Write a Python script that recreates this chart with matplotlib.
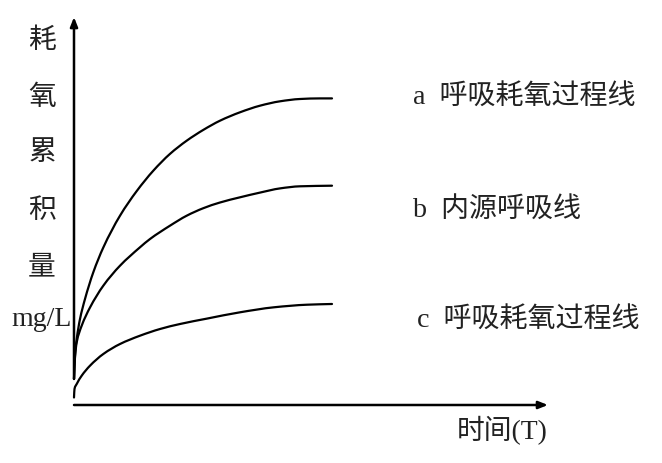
import matplotlib
matplotlib.use("Agg")
import matplotlib.pyplot as plt
from matplotlib.path import Path
from matplotlib.patches import PathPatch

# ---- data (time units, mg/L units) ----
a_t = [0.0, 0.039, 0.105, 0.233, 0.426, 0.748, 1.136, 1.783, 2.43, 3.074, 3.72,
       4.368, 5.012, 5.659, 6.434, 7.209, 7.984, 8.76, 9.535, 10.0]
a_v = [0.867, 1.643, 2.2, 2.867, 3.533, 4.423, 5.25, 6.31, 7.13, 7.81, 8.37,
       8.81, 9.17, 9.477, 9.757, 9.977, 10.123, 10.2, 10.22, 10.22]

b_t = [0.0, 0.039, 0.105, 0.298, 0.62, 1.136, 1.783, 2.558, 2.946, 3.72, 4.368,
       5.012, 5.659, 6.434, 7.209, 7.984, 8.76, 10.0]
b_v = [0.867, 1.6, 2.09, 2.643, 3.25, 3.977, 4.643, 5.257, 5.533, 5.977, 6.31,
       6.56, 6.75, 6.923, 7.08, 7.22, 7.29, 7.31]

c_t = [0.0, 0.019, 0.105, 0.298, 0.62, 1.136, 1.783, 2.558, 3.333, 4.109, 5.155,
       6.434, 7.752, 9.031, 10.0]
c_v = [0.25, 0.533, 0.7, 0.977, 1.31, 1.7, 2.033, 2.31, 2.533, 2.7, 2.88,
       3.09, 3.257, 3.343, 3.367]

series_labels = ["a  呼吸耗氧过程线", "b  内源呼吸线", "c  呼吸耗氧过程线"]
y_label_chars = ["耗", "氧", "累", "积", "量", "mg/L"]
x_label = "时间(T)"

fam = ["Liberation Serif", "Noto Sans CJK SC", "DejaVu Sans"]
plt.rcParams["font.family"] = fam


def smooth_path(x, y):
    """Monotone cubic Hermite (Fritsch-Carlson) through the points, as Bezier path."""
    n = len(x)
    h = [x[i + 1] - x[i] for i in range(n - 1)]
    d = [(y[i + 1] - y[i]) / h[i] for i in range(n - 1)]
    m = [0.0] * n
    m[0] = d[0]
    m[-1] = d[-1]
    for i in range(1, n - 1):
        if d[i - 1] * d[i] <= 0:
            m[i] = 0.0
        else:
            w1 = 2 * h[i] + h[i - 1]
            w2 = h[i] + 2 * h[i - 1]
            m[i] = (w1 + w2) / (w1 / d[i - 1] + w2 / d[i])
    verts = [(x[0], y[0])]
    codes = [Path.MOVETO]
    for i in range(n - 1):
        verts += [(x[i] + h[i] / 3, y[i] + m[i] * h[i] / 3),
                  (x[i + 1] - h[i] / 3, y[i + 1] - m[i + 1] * h[i] / 3),
                  (x[i + 1], y[i + 1])]
        codes += [Path.CURVE4] * 3
    return Path(verts, codes)


fig = plt.figure(figsize=(6.62, 4.64), dpi=100)
ax = fig.add_axes([0, 0, 1, 1])
ax.set_xlim(-74 / 25.8, (662 - 74) / 25.8)
ax.set_ylim((406 - 464) / 30.0, 406 / 30.0)
ax.axis("off")

lw = 1.6
for t, v in [(a_t, a_v), (b_t, b_v), (c_t, c_v)]:
    ax.add_patch(PathPatch(smooth_path(t, v), facecolor="none", edgecolor="black",
                           lw=lw, capstyle="round"))

# axes with arrows
arrow = dict(arrowstyle="-|>,head_length=0.55,head_width=0.22", color="black", lw=1.8,
             shrinkA=0, shrinkB=0)
ax.annotate("", xy=(0, 12.93), xytext=(0, 0.87), arrowprops=arrow)
ax.annotate("", xy=(18.37, 0), xytext=(0, 0), arrowprops=arrow)

# y label (stacked)
ylab_y = [12.17, 10.27, 8.43, 6.47, 4.6, 2.87]
for ch, yy in zip(y_label_chars, ylab_y):
    ax.text(-1.24, yy, ch, ha="center", va="center", fontsize=20, color="#222222")

# series labels
lab_pos = [((413 - 74) / 25.8, (406 - 97) / 30.0),
           ((413 - 74) / 25.8, (406 - 210) / 30.0),
           ((417 - 74) / 25.8, (406 - 320) / 30.0)]
for s, (xx, yy) in zip(series_labels, lab_pos):
    ax.text(xx, yy, s, ha="left", va="center", fontsize=20.2, color="#222222")

ax.text((548 - 74) / 25.8, (406 - 431) / 30.0, x_label, ha="right", va="center",
        fontsize=20, color="#222222")

fig.savefig("out.png", dpi=100)
